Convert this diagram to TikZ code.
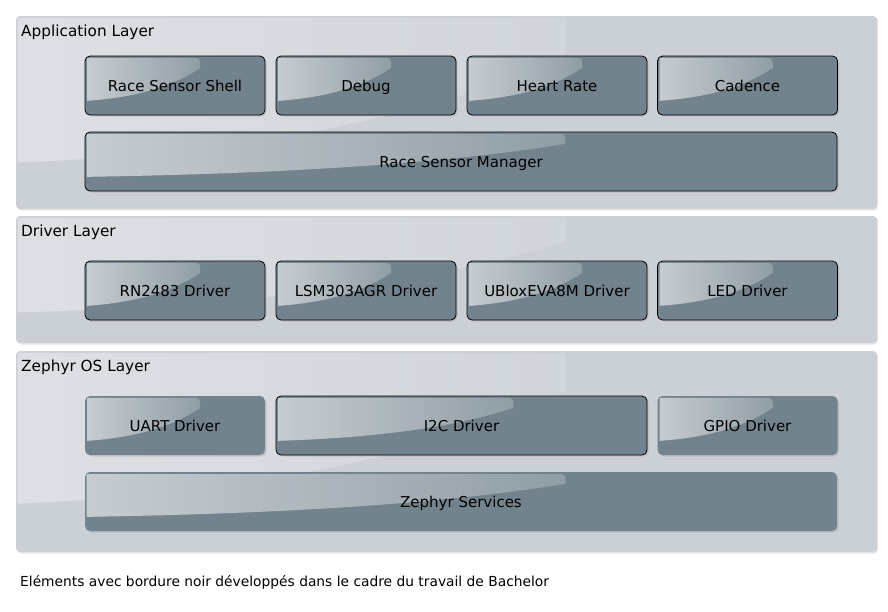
\documentclass[tikz,border=0pt]{standalone}
\usepackage{fontspec}
\setmainfont{DejaVu Sans}
\usepackage{tikz}
\usetikzlibrary{calc,fadings,shadows}

\definecolor{layerfill}{RGB}{203,208,215}
\definecolor{boxfill}{RGB}{115,131,141}

% white gloss on the upper left part of a shape
\newcommand\glossy[2][.6]{%
  \fill[white,fill opacity=#1,path fading=east]
    let \p1=(#2.north west), \p2=(#2.south east),
        \n1={\x2-\x1}, \n2={\y1-\y2} in
    [rounded corners=4pt] (\x1+2pt,\y1-2pt) -- (\x1+0.64*\n1,\y1-2pt)
    [sharp corners] -- (\x1+0.64*\n1,\y1-0.2*\n2)
    .. controls (\x1+0.45*\n1,\y1-0.6*\n2) and (\x1+0.2*\n1,\y1-0.72*\n2) .. (\x1+2pt,\y1-0.76*\n2)
    -- cycle;
}

\begin{document}
\begin{tikzpicture}[x=1pt,y=-1pt,
    layer/.style={fill=layerfill,rounded corners=4pt,minimum width=861pt,
      path picture={\glossy[.35]{path picture bounding box}},
      drop shadow={opacity=.2,shadow xshift=1pt,shadow yshift=-1.5pt}},
    layertitle/.style={anchor=base west,font=\fontsize{15.3}{17}\selectfont,inner sep=0pt},
    mod/.style={fill=boxfill,rounded corners=5pt,minimum height=59pt,
      font=\fontsize{15}{17}\selectfont,inner sep=0pt,text height=11pt,text depth=0pt,
      path picture={\glossy{path picture bounding box}},
      drop shadow={opacity=.25,shadow xshift=1.5pt,shadow yshift=-1.5pt}},
    own/.style={mod,draw=black,line width=.8pt}]
          \useasboundingbox (0,0) rectangle (888,611);
          %\draw[very thin,lightgray] (0,0) grid[step=50] (888,611);
          % layers
          \node[layer,minimum height=193pt] (app) at (446.5,112.5) {};
          \node[layertitle] (apptitle) at (21,36.5) {Application Layer};
          \node[layer,minimum height=127pt] (drv) at (446.5,279.5) {};
          \node[layertitle] (drvtitle) at (21,236.5) {Driver Layer};
          \node[layer,minimum height=201pt] (os) at (446.5,451.5) {};
          \node[layertitle] (ostitle) at (21,371.5) {Zephyr OS Layer};
          % application layer
          \node[own,minimum width=180pt] (shell) at (175,85.5) {Race Sensor Shell};
          \node[own,minimum width=180pt] (debug) at (366,85.5) {Debug};
          \node[own,minimum width=180pt] (heart) at (557,85.5) {Heart Rate};
          \node[own,minimum width=180pt] (cadence) at (747.5,85.5) {Cadence};
          \node[own,minimum width=752pt] (manager) at (461,161.5) {Race Sensor Manager};
          % driver layer
          \node[own,minimum width=180pt] (rn) at (175,290.5) {RN2483 Driver};
          \node[own,minimum width=180pt] (lsm) at (366,290.5) {LSM303AGR Driver};
          \node[own,minimum width=180pt] (ublox) at (557,290.5) {UBloxEVA8M Driver};
          \node[own,minimum width=180pt] (led) at (747.5,290.5) {LED Driver};
          % zephyr layer
          \node[mod,minimum width=180pt] (uart) at (175,425.5) {UART Driver};
          \node[own,minimum width=371pt] (itwoc) at (461.5,425.5) {I2C Driver};
          \node[mod,minimum width=180pt] (gpio) at (747.5,425.5) {GPIO Driver};
          \node[mod,minimum width=752pt] (services) at (461,501.5) {Zephyr Services};
          \node[anchor=base west,inner sep=0pt,font=\fontsize{13.8}{15}\selectfont] (note) at (20,586.5)
            {Eléments avec bordure noir développés dans le cadre du travail de Bachelor};
        \end{tikzpicture}
\end{document}
